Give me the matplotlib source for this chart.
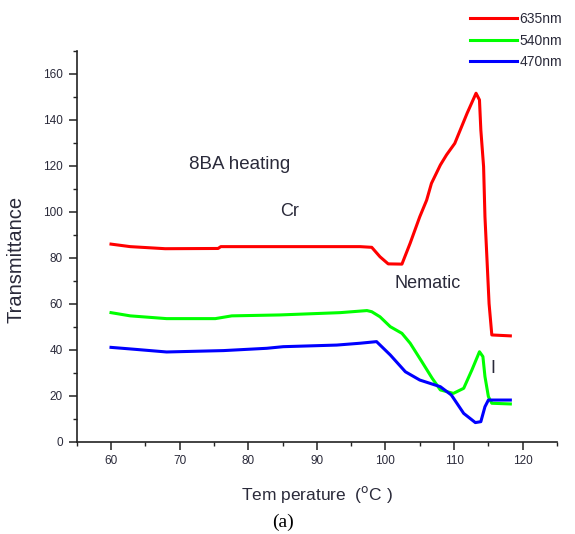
import matplotlib
matplotlib.use("Agg")
import matplotlib.pyplot as plt
from matplotlib.ticker import MultipleLocator

# ---- data ----
red_T = [60, 62.8, 67.9, 75.6, 76.0, 87.1, 96.3, 98.0, 99.2, 100.4, 102.4, 103.6, 105.0,
         106.0, 106.7, 108.0, 108.9, 110.1, 111.9, 113.2, 113.7, 113.9, 114.3, 114.5,
         114.8, 115.1, 115.5, 118.2]
red_V = [85.9, 84.8, 83.9, 84.0, 84.8, 84.8, 84.8, 84.5, 80.4, 77.3, 77.2, 86.3, 97.8,
         105.0, 112.3, 120.3, 124.7, 129.7, 142.8, 151.5, 148.6, 135.5, 119.6, 97.8,
         79.0, 60.0, 46.4, 46.0]

green_T = [60, 62.8, 68.1, 75.2, 77.6, 84.6, 93.4, 97.3, 98.0, 99.2, 100.7, 102.4, 103.6,
           105.3, 106.8, 108.0, 109.9, 111.4, 112.6, 113.7, 114.2, 114.5, 115.0, 115.5, 118.2]
green_V = [56.1, 54.7, 53.5, 53.5, 54.7, 55.1, 56.1, 57.0, 56.5, 54.3, 50.0, 47.1, 42.8,
           34.8, 27.6, 22.5, 21.0, 23.2, 31.2, 39.1, 37.0, 28.3, 19.6, 16.7, 16.4]

blue_T = [60, 63.3, 68.1, 76.4, 82.7, 85.1, 92.9, 96.3, 98.7, 100.7, 102.9, 105.0, 108.0,
          109.6, 111.4, 113.1, 113.9, 114.5, 115.0, 118.2]
blue_V = [41.0, 40.2, 39.0, 39.6, 40.6, 41.3, 42.0, 42.8, 43.5, 37.7, 30.4, 26.8, 23.9,
          20.3, 12.3, 8.3, 8.7, 15.2, 18.1, 18.1]

series_labels = ["635nm", "540nm", "470nm"]
x_ticks = [60, 70, 80, 90, 100, 110, 120]
y_ticks = [0, 20, 40, 60, 80, 100, 120, 140, 160]

plt.rcParams['font.family'] = ['Liberation Sans', 'DejaVu Sans']

TXT = "#2a2a3a"
fig = plt.figure(figsize=(5.75, 5.34), dpi=100)
ax = fig.add_axes([0.1334, 0.1729, 0.8353, 0.7322])

lw = 2.2
ax.plot(red_T, red_V, color="#FF0000", lw=lw, label=series_labels[0])
ax.plot(green_T, green_V, color="#00FF00", lw=lw, label=series_labels[1])
ax.plot(blue_T, blue_V, color="#0000FF", lw=lw, label=series_labels[2])

ax.set_xlim(55, 125)
ax.set_ylim(0, 170)
ax.set_xticks(x_ticks)
ax.set_yticks(y_ticks)
ax.xaxis.set_minor_locator(MultipleLocator(5))
ax.yaxis.set_minor_locator(MultipleLocator(10))

for s in ["top", "right"]:
    ax.spines[s].set_visible(False)
for s in ["left", "bottom"]:
    ax.spines[s].set_linewidth(1.2)
    ax.spines[s].set_color("#222222")

ax.tick_params(axis="both", which="major", direction="out", length=6, width=1.1,
               labelsize=8.5, colors="#222222", labelcolor=TXT)
ax.tick_params(axis="both", which="minor", direction="out", length=3, width=1.0,
               colors="#222222")
ax.tick_params(axis="x", which="major", pad=3.5)
ax.tick_params(axis="y", which="major", pad=4)

ax.set_ylabel("Transmittance", fontsize=14.5, color=TXT, va="center")
ax.yaxis.set_label_coords(-0.127, 0.465)
ax.set_xlabel("Tem perature  ($^{\\rm o}$C )", fontsize=12.5, color=TXT, va="center")
ax.xaxis.set_label_coords(0.5, -0.134)

ax.text(78.8, 120.3, "8BA heating", fontsize=13.5, color=TXT, ha="center", va="center")
ax.text(86.0, 100.0, "Cr", fontsize=13, color=TXT, ha="center", va="center")
ax.text(106.2, 68.6, "Nematic", fontsize=13, color=TXT, ha="center", va="center")
ax.text(115.6, 31.6, "I", fontsize=13, color=TXT, ha="center", va="center")

fig.text(0.492, 0.021, "(a)", fontsize=14, family="Liberation Serif", ha="center", va="center",
         transform=fig.transFigure)

leg = ax.legend(loc="upper left", bbox_to_anchor=(470 / 575, 1 - 12 / 534),
                bbox_transform=fig.transFigure,
                frameon=False, fontsize=10, handlelength=3.4, handletextpad=0.15,
                labelspacing=0.55, borderaxespad=0.0, borderpad=0.0)
for t in leg.get_texts():
    t.set_color(TXT)

fig.savefig("out.png", dpi=100)
